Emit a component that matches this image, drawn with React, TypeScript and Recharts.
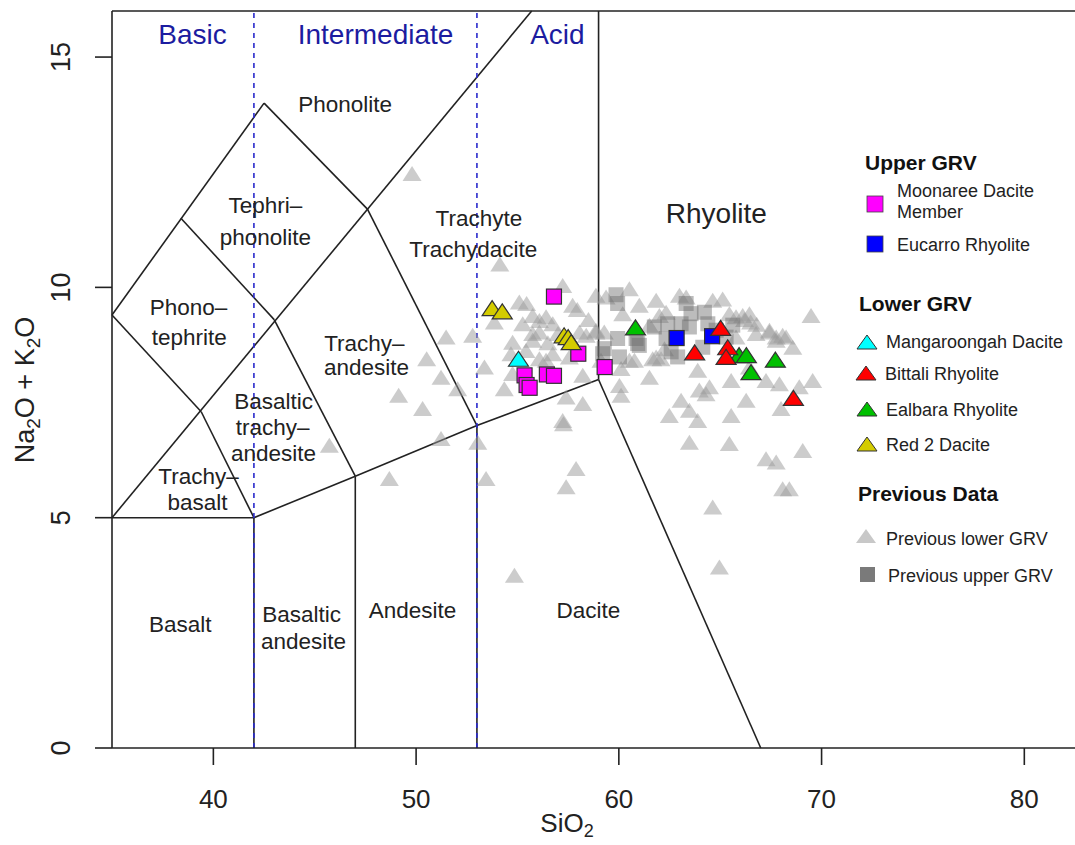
import React from 'react';
import { ScatterChart, Scatter, XAxis, YAxis, ReferenceLine } from 'recharts';

const FONT = '"Liberation Sans", Arial, Helvetica, sans-serif';

// ---------- axes ----------
const X_DOMAIN = [35, 82.5];
const Y_DOMAIN = [0, 16];
const X_TICKS = [40, 50, 60, 70, 80];
const Y_TICKS = [0, 5, 10, 15];

// ---------- TAS field boundaries [x1, y1, x2, y2] ----------
const FIELD_BOUNDARIES = [
  [35, 5, 42, 5],
  [42, 0, 42, 5],
  [42, 5, 47, 5.9],
  [47, 5.9, 53, 7],
  [53, 7, 59, 8],
  [47, 0, 47, 5.9],
  [53, 0, 53, 7],
  [59, 8, 59, 16],
  [59, 8, 67, 0],
  [35, 5, 55.7, 16],
  [35, 9.4, 42.5, 14],
  [42.5, 14, 47.6, 11.7],
  [47.6, 11.7, 53, 7],
  [38.4, 11.5, 43, 9.3],
  [43, 9.3, 47, 5.9],
  [35, 9.4, 39.4, 7.3],
  [39.4, 7.3, 42, 5],
];
const SILICA_DIVIDERS = [42, 53];

// ---------- labels ----------
const GROUP_LABELS = [
  { x: 38.97, y: 15.5, text: 'Basic' },
  { x: 48.0, y: 15.5, text: 'Intermediate' },
  { x: 56.97, y: 15.5, text: 'Acid' },
];
const FIELD_LABELS = [
  { x: 46.5, y: 13.97, text: 'Phonolite' },
  { x: 42.57, y: 11.78, text: 'Tephri\u2013' },
  { x: 42.57, y: 11.08, text: 'phonolite' },
  { x: 53.1, y: 11.5, text: 'Trachyte' },
  { x: 52.82, y: 10.82, text: 'Trachydacite' },
  { x: 38.77, y: 9.57, text: 'Phono\u2013' },
  { x: 38.81, y: 8.92, text: 'tephrite' },
  { x: 47.45, y: 8.79, text: 'Trachy\u2013' },
  { x: 47.55, y: 8.26, text: 'andesite' },
  { x: 42.97, y: 7.52, text: 'Basaltic' },
  { x: 42.92, y: 6.96, text: 'trachy\u2013' },
  { x: 42.97, y: 6.4, text: 'andesite' },
  { x: 39.27, y: 5.9, text: 'Trachy\u2013' },
  { x: 39.22, y: 5.34, text: 'basalt' },
  { x: 38.37, y: 2.69, text: 'Basalt' },
  { x: 44.35, y: 2.9, text: 'Basaltic' },
  { x: 44.45, y: 2.32, text: 'andesite' },
  { x: 49.82, y: 2.99, text: 'Andesite' },
  { x: 58.5, y: 2.99, text: 'Dacite' },
];
const BIG_LABELS = [{ x: 64.81, y: 11.6, text: 'Rhyolite' }];

// ---------- data (SiO2, Na2O+K2O) ----------
const moonareeDacite = [
  [56.8, 9.8], [58.0, 8.56], [59.3, 8.27], [55.35, 8.09], [55.45, 7.88],
  [55.6, 7.82], [56.45, 8.11], [56.8, 8.08],
];
const eucarroRhyolite = [[62.85, 8.9], [64.6, 8.94]];
const mangaroongahDacite = [[55.05, 8.45]];
const bittaliRhyolite = [[65.02, 9.12], [63.74, 8.59], [65.37, 8.7], [65.29, 8.49], [68.61, 7.6]];
const ealbaraRhyolite = [[60.82, 9.13], [65.93, 8.53], [66.29, 8.53], [66.52, 8.16], [67.72, 8.43]];
const red2Dacite = [[53.75, 9.55], [54.25, 9.48], [57.3, 8.96], [57.5, 8.92], [57.65, 8.81]];

const previousUpper = [
  [59.86, 9.84], [59.94, 9.65], [63.32, 9.65], [64.22, 9.46], [61.75, 9.14],
  [62.41, 9.21], [63.07, 9.21], [63.48, 9.14], [59.94, 8.89], [60.85, 8.89],
  [60.93, 8.78], [60.03, 8.49], [59.28, 8.67], [62.33, 8.89], [62.58, 8.6],
  [62.9, 8.49], [64.14, 8.7], [64.39, 9.21], [65.29, 8.92], [65.62, 9.18],
  [59.2, 8.56], [63.56, 9.43], [64.8, 9.07], [61.01, 8.74],
];

const previousLower = [
  [49.8, 12.47], [54.13, 10.51], [45.72, 6.57], [48.68, 5.85], [49.14, 7.66],
  [50.32, 7.37], [51.23, 8.05], [52.05, 7.8], [51.23, 6.72], [53.04, 6.64],
  [53.45, 5.85], [54.85, 3.75], [50.52, 8.45], [51.48, 8.92], [52.79, 8.96],
  [53.37, 8.27],
  [57.23, 10.04], [58.87, 9.83], [59.37, 9.79], [55.09, 9.68], [55.45, 9.65],
  [57.72, 9.61], [57.95, 9.52], [53.86, 9.25], [55.26, 9.21], [55.75, 9.39],
  [56.08, 9.28], [56.41, 9.36], [56.74, 9.21], [55.75, 9.0], [56.08, 9.03],
  [54.76, 8.81], [55.42, 8.63], [54.68, 8.56], [56.08, 8.45], [56.41, 8.42],
  [56.74, 8.56], [58.06, 9.03], [58.39, 8.96], [57.56, 8.49], [58.87, 9.03],
  [54.35, 7.8], [54.76, 8.13], [57.4, 7.62], [58.22, 8.09], [57.23, 7.11],
  [57.27, 7.04], [58.22, 7.48], [57.89, 6.07], [57.4, 5.67], [55.75, 8.85],
  [57.0, 9.0], [56.5, 8.8], [58.5, 9.3],
  [60.52, 9.97], [61.84, 9.72], [61.01, 9.61], [62.99, 9.83], [63.32, 9.79],
  [64.63, 9.72], [65.12, 9.75], [60.11, 8.24], [60.03, 7.87], [60.11, 7.66],
  [61.51, 8.05], [62.49, 7.22], [63.07, 7.55], [63.48, 6.64], [63.89, 8.2],
  [63.97, 7.77], [64.3, 7.69], [64.47, 7.84], [63.89, 7.11], [65.54, 7.22],
  [65.45, 6.61], [65.54, 7.98], [66.28, 7.55], [66.44, 8.27], [67.26, 7.98],
  [67.92, 7.91], [67.26, 6.28], [67.76, 6.21], [68.08, 5.63], [68.41, 5.63],
  [69.07, 6.46], [69.56, 7.98], [69.48, 9.39], [68.25, 8.92], [68.58, 8.7],
  [67.43, 9.07], [67.76, 8.85], [66.2, 9.3], [66.5, 9.25], [66.8, 9.2],
  [65.78, 8.92], [68.9, 7.84], [61.67, 8.45], [62.25, 8.67], [63.48, 7.33],
  [64.63, 5.23], [64.96, 3.93], [68.0, 7.37], [62.0, 9.39], [62.33, 9.46],
  [65.45, 9.43], [65.78, 9.36], [66.11, 9.39], [66.44, 9.43], [66.77, 9.0],
  [67.43, 9.03], [67.76, 8.92], [68.08, 8.96], [58.87, 9.07], [59.28, 9.03],
  [60.19, 9.43], [61.51, 9.18], [60.52, 8.42], [60.77, 8.42], [59.12, 8.42],
  [61.84, 8.49], [62.08, 8.45],
];

const toPts = (arr: number[][]) => arr.map(([x, y]) => ({ x, y }));

// ---------- marker shapes ----------
const triangleShape = (fill: string, stroke: string, w: number, h: number, opacity = 1) =>
  (props: any) => {
    const { cx, cy } = props;
    if (cx == null || cy == null) return <g />;
    return (
      <polygon
        points={`${cx},${cy - h / 2} ${cx - w / 2},${cy + h / 2} ${cx + w / 2},${cy + h / 2}`}
        fill={fill}
        fillOpacity={opacity}
        stroke={stroke}
        strokeWidth={stroke === 'none' ? 0 : 1.2}
        strokeLinejoin="miter"
      />
    );
  };

const squareShape = (fill: string, stroke: string, s: number, opacity = 1) =>
  (props: any) => {
    const { cx, cy } = props;
    if (cx == null || cy == null) return <g />;
    return (
      <rect
        x={cx - s / 2}
        y={cy - s / 2}
        width={s}
        height={s}
        fill={fill}
        fillOpacity={opacity}
        stroke={stroke}
        strokeWidth={stroke === 'none' ? 0 : 1.2}
      />
    );
  };

const textShape = (size: number, color: string) => (props: any) => {
  const { cx, cy, payload } = props;
  if (cx == null || cy == null) return <g />;
  return (
    <text
      x={cx}
      y={cy}
      textAnchor="middle"
      dominantBaseline="central"
      fontSize={size}
      fill={color}
      fontFamily={FONT}
    >
      {payload.text}
    </text>
  );
};

const YTick = (props: any) => {
  const { y, payload } = props;
  return (
    <text
      x={61}
      y={y}
      transform={`rotate(-90 61 ${y})`}
      textAnchor="middle"
      dominantBaseline="central"
      fontSize={27}
      fill="#222"
      fontFamily={FONT}
    >
      {payload.value}
    </text>
  );
};

const LINE = '#222';
const BLUE_DASH = '#2a2acc';

const Legend = () => {
  const t = { fontFamily: FONT, fontSize: 18, fill: '#222', dominantBaseline: 'central' as const };
  const h = { fontFamily: FONT, fontSize: 21, fontWeight: 700, fill: '#111', dominantBaseline: 'central' as const };
  const tri = (cx: number, cy: number, fill: string, stroke: string) => (
    <polygon
      points={`${cx},${cy - 7} ${cx - 10},${cy + 7} ${cx + 10},${cy + 7}`}
      fill={fill}
      stroke={stroke}
      strokeWidth={stroke === 'none' ? 0 : 1}
    />
  );
  return (
    <svg
      width={1075}
      height={845}
      style={{ position: 'absolute', left: 0, top: 0, pointerEvents: 'none' }}
    >
      <text x={865} y={162} {...h}>Upper GRV</text>
      <rect x={867} y={196} width={16} height={16} fill="#ff00ff" stroke="#444" strokeWidth={0.8} />
      <text x={897} y={191} {...t}>Moonaree Dacite</text>
      <text x={897} y={212} {...t}>Member</text>
      <rect x={867} y={236} width={16} height={16} fill="#0000ff" stroke="#444" strokeWidth={0.8} />
      <text x={897} y={245} {...t}>Eucarro Rhyolite</text>

      <text x={859} y={303} {...h}>Lower GRV</text>
      {tri(867, 342, '#00ffff', '#333')}
      <text x={886} y={342} {...t}>Mangaroongah Dacite</text>
      {tri(866, 373, '#ff0000', '#333')}
      <text x={885} y={374} {...t}>Bittali Rhyolite</text>
      {tri(867, 409, '#00c000', '#333')}
      <text x={886} y={410} {...t}>Ealbara Rhyolite</text>
      {tri(867, 444, '#d4cc00', '#333')}
      <text x={886} y={445} {...t}>Red 2 Dacite</text>

      <text x={858} y={493} {...h}>Previous Data</text>
      {tri(866, 536, '#c8c8c8', 'none')}
      <text x={886} y={539} {...t}>Previous lower GRV</text>
      <rect x={860} y={567} width={15} height={15} fill="#7a7a7a" />
      <text x={888} y={576} {...t}>Previous upper GRV</text>

      <text x={567} y={832} textAnchor="middle" fontFamily={FONT} fontSize={26} fill="#222">
        SiO<tspan dy={5} fontSize={18}>2</tspan>
      </text>
      <text
        x={34}
        y={390}
        transform="rotate(-90 34 390)"
        textAnchor="middle"
        fontFamily={FONT}
        fontSize={27}
        fill="#222"
      >
        Na<tspan dy={6} fontSize={19}>2</tspan>
        <tspan dy={-6}>O + K</tspan>
        <tspan dy={6} fontSize={19}>2</tspan>
        <tspan dy={-6}>O</tspan>
      </text>
    </svg>
  );
};

export default function App() {
  return (
    <div style={{ position: 'absolute', left: 0, top: 0, width: 1075, height: 845, background: '#fff' }}>
      <ScatterChart
        width={1075}
        height={845}
        margin={{ top: 11, right: 0, bottom: 0, left: 0 }}
      >
        <XAxis
          type="number"
          dataKey="x"
          domain={X_DOMAIN}
          ticks={X_TICKS}
          allowDataOverflow
          height={97}
          tickSize={17}
          tickMargin={25}
          axisLine={{ stroke: LINE, strokeWidth: 1.6 }}
          tickLine={{ stroke: LINE, strokeWidth: 1.6 }}
          tick={{ fontSize: 26, fill: '#222', fontFamily: FONT }}
        />
        <YAxis
          type="number"
          dataKey="y"
          domain={Y_DOMAIN}
          ticks={Y_TICKS}
          allowDataOverflow
          width={112}
          tickSize={17}
          axisLine={{ stroke: LINE, strokeWidth: 1.6 }}
          tickLine={{ stroke: LINE, strokeWidth: 1.6 }}
          tick={<YTick />}
        />
        <ReferenceLine y={16} stroke={LINE} strokeWidth={1.6} ifOverflow="visible" />
        {FIELD_BOUNDARIES.map(([x1, y1, x2, y2], i) => (
          <ReferenceLine
            key={`b${i}`}
            segment={[{ x: x1, y: y1 }, { x: x2, y: y2 }]}
            stroke={LINE}
            strokeWidth={1.6}
            ifOverflow="visible"
          />
        ))}
        {SILICA_DIVIDERS.map((x) => (
          <ReferenceLine
            key={`d${x}`}
            x={x}
            stroke={BLUE_DASH}
            strokeWidth={1.6}
            strokeDasharray="5 5"
            ifOverflow="visible"
          />
        ))}
        <Scatter data={GROUP_LABELS} shape={textShape(28, '#1c1ca0')} isAnimationActive={false} />
        <Scatter data={FIELD_LABELS} shape={textShape(22.5, '#222')} isAnimationActive={false} />
        <Scatter data={BIG_LABELS} shape={textShape(28, '#222')} isAnimationActive={false} />

        <Scatter
          data={toPts(previousLower)}
          shape={triangleShape('#9a9a9a', 'none', 19, 15, 0.5)}
          isAnimationActive={false}
        />
        <Scatter
          data={toPts(previousUpper)}
          shape={squareShape('#6a6a6a', 'none', 15, 0.45)}
          isAnimationActive={false}
        />
        <Scatter data={toPts(moonareeDacite)} shape={squareShape('#ff00ff', '#333', 15)} isAnimationActive={false} />
        <Scatter data={toPts(eucarroRhyolite)} shape={squareShape('#0000ff', '#333', 15)} isAnimationActive={false} />
        <Scatter data={toPts(mangaroongahDacite)} shape={triangleShape('#00ffff', '#333', 20, 15)} isAnimationActive={false} />
        <Scatter data={toPts(red2Dacite)} shape={triangleShape('#d4cc00', '#333', 20, 15)} isAnimationActive={false} />
        <Scatter data={toPts(ealbaraRhyolite)} shape={triangleShape('#00c000', '#333', 20, 15)} isAnimationActive={false} />
        <Scatter data={toPts(bittaliRhyolite)} shape={triangleShape('#ff0000', '#333', 20, 15)} isAnimationActive={false} />
      </ScatterChart>
      <Legend />
    </div>
  );
}
